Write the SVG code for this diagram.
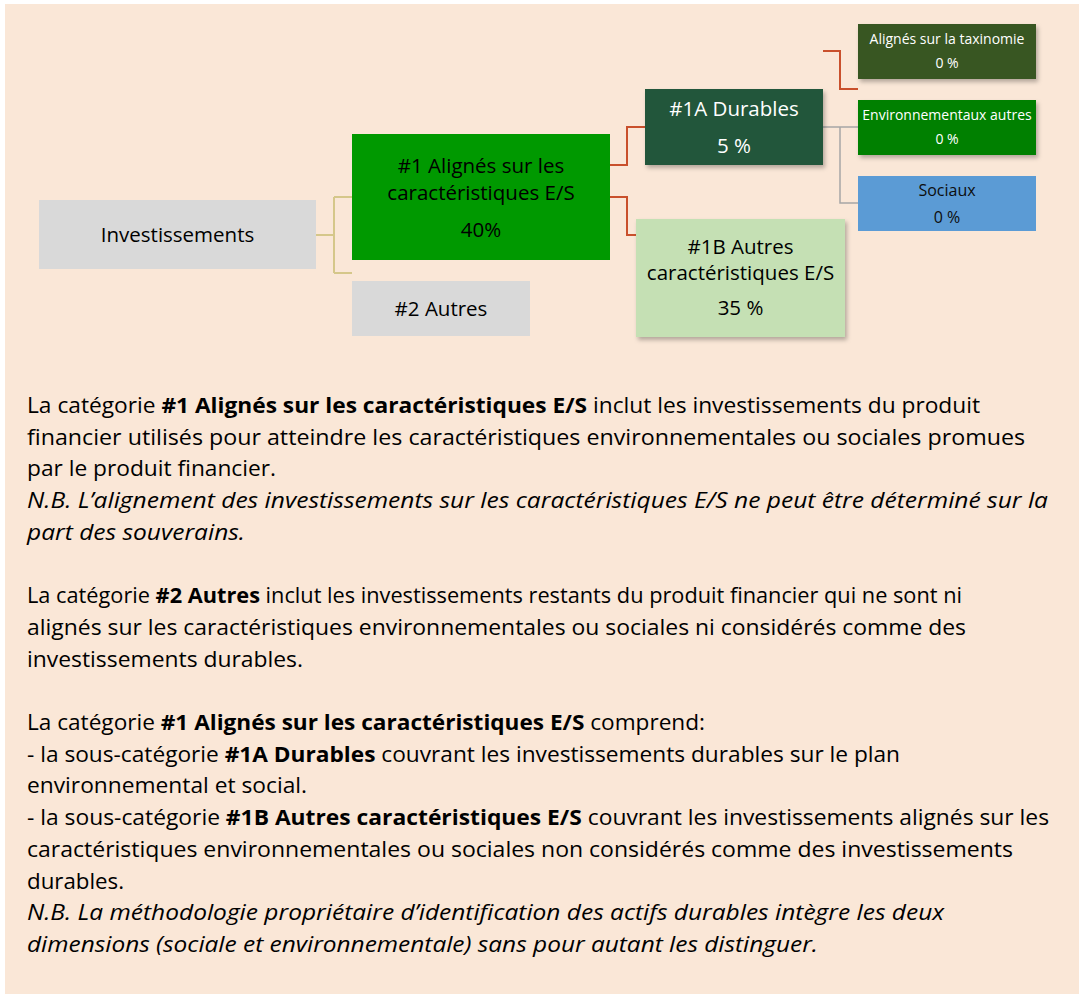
<svg xmlns="http://www.w3.org/2000/svg" width="1082" height="997" viewBox="0 0 1082 997">
<defs>
<filter id="sh" x="-10%" y="-10%" width="125%" height="140%">
<feDropShadow dx="2" dy="3" stdDeviation="2" flood-color="#000" flood-opacity="0.28"/>
</filter>
<style>
.box{font-family:"Open Sans","Noto Sans",sans-serif;text-anchor:middle}
.b20{font-size:20.5px}
.s14{font-size:14px}
.s16{font-size:16px}
.body{font-family:"Open Sans","Noto Sans",sans-serif;font-size:21.5px;fill:#000}
.bd{font-weight:bold}
.it{font-style:italic}
.tan{fill:none;stroke:#D5C78A;stroke-width:2}
.red{fill:none;stroke:#C9502C;stroke-width:2}
.gry{fill:none;stroke:#A6A6A6;stroke-width:1.5}
</style>
</defs>
<rect x="5" y="4" width="1074" height="990" fill="#FAE7D7"/>

<g id="connectors">
<path class="tan" d="M316,235 H334 M334,197 V273 M334,197 H352 M334,273 H352"/>
<path class="red" d="M610,165 H627 V127 H645"/>
<path class="red" d="M610,197 H627 V235 H636"/>
<path class="red" d="M823,51 H840 V89 H858"/>
<path class="gry" d="M823,127 H858 M840,127 V203 H858"/>
</g>

<g id="investissements">
<rect x="39" y="200" width="277" height="69" fill="#D9D9D9"/>
<text class="box b20" x="177.5" y="242" fill="#000">Investissements</text>
</g>

<g id="n1">
<rect x="352" y="134" width="258" height="126" fill="#009900"/>
<text class="box b20" fill="#000"><tspan x="481" y="173">#1 Alignés sur les</tspan><tspan x="481" y="199.5">caractéristiques E/S</tspan><tspan x="481" y="237">40%</tspan></text>
</g>

<g id="n2">
<rect x="352" y="281" width="178" height="55" fill="#D9D9D9"/>
<text class="box b20" x="441" y="316" fill="#000">#2 Autres</text>
</g>

<g id="n1a">
<rect x="645" y="89" width="178" height="76" fill="#22573A" filter="url(#sh)"/>
<text class="box b20" fill="#FFFFFF"><tspan x="734" y="116">#1A Durables</tspan><tspan x="734" y="153">5 %</tspan></text>
</g>

<g id="n1b">
<rect x="636" y="219" width="209" height="118" fill="#C5E0B4" filter="url(#sh)"/>
<text class="box b20" fill="#000"><tspan x="740.5" y="253.5">#1B Autres</tspan><tspan x="740.5" y="280">caractéristiques E/S</tspan><tspan x="740.5" y="315">35 %</tspan></text>
</g>

<g id="taxinomie">
<rect x="858" y="24" width="178" height="55" fill="#385723" filter="url(#sh)"/>
<text class="box s14" fill="#FFFFFF"><tspan x="947" y="44">Alignés sur la taxinomie</tspan><tspan x="947" y="67.5">0 %</tspan></text>
</g>

<g id="environnementaux">
<rect x="858" y="100" width="178" height="55" fill="#008000" filter="url(#sh)"/>
<text class="box s14" fill="#FFFFFF"><tspan x="947" y="120">Environnementaux autres</tspan><tspan x="947" y="143.5">0 %</tspan></text>
</g>

<g id="sociaux">
<rect x="858" y="176" width="178" height="55" fill="#5B9BD5"/>
<text class="box s16" fill="#0D0D0D"><tspan x="947" y="196">Sociaux</tspan><tspan x="947" y="223">0 %</tspan></text>
</g>

<g id="notes" class="body">
<text x="27" y="413" textLength="953" lengthAdjust="spacingAndGlyphs">La catégorie <tspan class="bd">#1 Alignés sur les caractéristiques E/S</tspan> inclut les investissements du produit</text>
<text x="27" y="444.7" textLength="998" lengthAdjust="spacingAndGlyphs">financier utilisés pour atteindre les caractéristiques environnementales ou sociales promues</text>
<text x="27" y="476.4" textLength="249" lengthAdjust="spacingAndGlyphs">par le produit financier.</text>
<text x="27" y="508.1" class="it" textLength="1021" lengthAdjust="spacingAndGlyphs">N.B. L’alignement des investissements sur les caractéristiques E/S ne peut être déterminé sur la</text>
<text x="27" y="539.8" class="it" textLength="218" lengthAdjust="spacingAndGlyphs">part des souverains.</text>
<text x="27" y="603.2" textLength="935" lengthAdjust="spacingAndGlyphs">La catégorie <tspan class="bd">#2 Autres</tspan> inclut les investissements restants du produit financier qui ne sont ni</text>
<text x="27" y="634.9" textLength="939" lengthAdjust="spacingAndGlyphs">alignés sur les caractéristiques environnementales ou sociales ni considérés comme des</text>
<text x="27" y="666.6" textLength="276" lengthAdjust="spacingAndGlyphs">investissements durables.</text>
<text x="27" y="730" textLength="678" lengthAdjust="spacingAndGlyphs">La catégorie <tspan class="bd">#1 Alignés sur les caractéristiques E/S</tspan> comprend:</text>
<text x="27" y="761.7" textLength="873" lengthAdjust="spacingAndGlyphs">- la sous-catégorie <tspan class="bd">#1A Durables</tspan> couvrant les investissements durables sur le plan</text>
<text x="27" y="793.4" textLength="280" lengthAdjust="spacingAndGlyphs">environnemental et social.</text>
<text x="27" y="825.1" textLength="1022" lengthAdjust="spacingAndGlyphs">- la sous-catégorie <tspan class="bd">#1B Autres caractéristiques E/S</tspan> couvrant les investissements alignés sur les</text>
<text x="27" y="856.8" textLength="986" lengthAdjust="spacingAndGlyphs">caractéristiques environnementales ou sociales non considérés comme des investissements</text>
<text x="27" y="888.5" textLength="97" lengthAdjust="spacingAndGlyphs">durables.</text>
<text x="27" y="920.2" class="it" textLength="917" lengthAdjust="spacingAndGlyphs">N.B. La méthodologie propriétaire d’identification des actifs durables intègre les deux</text>
<text x="27" y="951.9" class="it" textLength="791" lengthAdjust="spacingAndGlyphs">dimensions (sociale et environnementale) sans pour autant les distinguer.</text>
</g>
</svg>
